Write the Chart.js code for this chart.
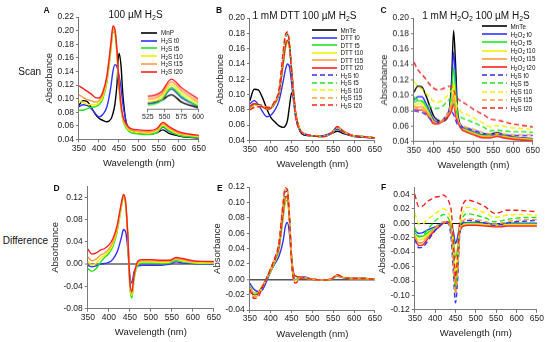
<!DOCTYPE html>
<html lang="en">
<head>
<meta charset="UTF-8">
<title>Absorbance scans and difference spectra</title>
<script src="https://cdn.jsdelivr.net/npm/chart.js@4.4.1/dist/chart.umd.min.js"></script>
<style>
  body { margin: 0; background: #fff; font-family: 'Liberation Sans', Arial, sans-serif; color: #111; }
  #fig { position: relative; width: 550px; height: 342px; overflow: hidden; }
  .holder { position: absolute; }
  .txt { position: absolute; white-space: nowrap; line-height: 1; }
  .letter { font-weight: bold; font-size: 8.5px; }
  .row { font-size: 10px; }
  .title { font-size: 10px; transform: translateX(-50%); }
  .leg { position: absolute; display: flex; align-items: center; height: 8px; font-size: 6.3px; white-space: nowrap; }
  .leg span { margin-left: 4px; }
  sub { font-size: 70%; vertical-align: -0.3em; line-height: 0; }
</style>
</head>
<body>
<div id="fig"></div>

<script>
// wavelengths (nm) shared by every curve
const wavelength = [350,360,370,380,390,400,410,420,430,435,440,445,450,455,460,470,480,500,525,545,560,575,600,625,650];

const xTicks = [350,400,450,500,550,600,650];
const insetTicks = [525,550,575,600];
const yTicksA = [0.04,0.06,0.08,0.10,0.12,0.14,0.16,0.18,0.20,0.22];
const yTicksBC = [0.04,0.06,0.08,0.10,0.12,0.14,0.16,0.18,0.20];
const yTicksD = [-0.08,-0.04,0,0.04,0.08,0.12];
const yTicksE = [-0.04,-0.02,0,0.02,0.04,0.06,0.08,0.10,0.12];
const yTicksF = [-0.12,-0.10,-0.08,-0.06,-0.04,-0.02,0,0.02,0.04];

// A: 100 uM H2S scans
const mnpA    = [.090,.097,.096,.088,.078,.071,.068,.066,.070,.078,.092,.120,.167,.150,.105,.060,.053,.049,.048,.050,.054,.049,.045,.043,.042];
const h2sT0A  = [.088,.091,.090,.086,.079,.073,.077,.088,.118,.140,.150,.147,.135,.117,.092,.062,.053,.049,.048,.050,.058,.052,.046,.044,.043];
const h2sT5A  = [.083,.083,.085,.087,.088,.091,.100,.124,.172,.198,.196,.166,.118,.086,.068,.055,.050,.048,.047,.050,.059,.053,.046,.044,.043];
const h2sT10A = [.097,.094,.092,.091,.091,.094,.103,.127,.175,.201,.198,.168,.120,.088,.070,.057,.052,.050,.049,.052,.061,.055,.048,.046,.044];
const h2sT15A = [.106,.102,.099,.097,.095,.097,.106,.130,.178,.203,.200,.170,.122,.090,.072,.059,.054,.052,.051,.054,.063,.057,.049,.047,.045];
const h2sT20A = [.119,.115,.111,.107,.102,.101,.110,.134,.182,.207,.202,.172,.124,.092,.074,.061,.056,.054,.053,.056,.065,.059,.051,.048,.046];

// B: 1 mM DTT then 100 uM H2S
const mnteB   = [.092,.107,.106,.096,.082,.070,.064,.059,.057,.059,.066,.085,.102,.095,.072,.052,.047,.046,.046,.049,.052,.049,.045,.044,.043];
const dttT0B  = [.088,.092,.087,.078,.071,.073,.080,.092,.118,.132,.140,.136,.115,.090,.070,.053,.048,.046,.046,.050,.055,.050,.046,.044,.043];
const dttT5B  = [.084,.087,.086,.084,.081,.082,.088,.101,.140,.160,.168,.160,.132,.100,.075,.054,.049,.046,.045,.049,.057,.051,.046,.045,.043];
const dttT10B = [.085,.087,.086,.084,.081,.082,.088,.101,.141,.161,.169,.161,.133,.101,.075,.054,.049,.046,.045,.049,.057,.051,.046,.045,.043];
const dttT15B = [.085,.088,.087,.084,.081,.082,.089,.102,.142,.162,.170,.162,.133,.101,.075,.054,.049,.046,.045,.049,.057,.051,.046,.045,.043];
const dttT20B = [.085,.088,.087,.084,.081,.082,.089,.102,.143,.163,.171,.163,.134,.102,.076,.054,.049,.046,.045,.049,.058,.052,.046,.045,.043];
const h2sT0B  = [.082,.086,.086,.086,.083,.083,.090,.104,.152,.173,.179,.165,.130,.099,.072,.054,.049,.046,.045,.049,.057,.051,.046,.045,.043];
const h2sT5B  = [.081,.085,.085,.086,.083,.083,.090,.105,.154,.175,.180,.166,.130,.098,.071,.054,.049,.046,.045,.049,.057,.051,.046,.045,.043];
const h2sT10B = [.081,.085,.085,.086,.083,.084,.091,.105,.155,.176,.181,.166,.129,.097,.071,.054,.049,.046,.045,.049,.057,.051,.046,.045,.043];
const h2sT15B = [.080,.084,.084,.086,.083,.084,.091,.106,.156,.177,.181,.166,.128,.097,.070,.054,.049,.046,.045,.049,.057,.051,.046,.045,.043];
const h2sT20B = [.080,.083,.084,.085,.083,.084,.092,.107,.157,.178,.182,.166,.127,.096,.070,.053,.049,.046,.045,.049,.058,.051,.046,.045,.043];

// C: 1 mM H2O2 then 100 uM H2S
const mnteC    = [.104,.112,.111,.100,.086,.073,.068,.066,.068,.072,.085,.120,.184,.140,.080,.060,.056,.052,.049,.050,.052,.049,.046,.045,.044];
const h2o2T0C  = [.094,.098,.098,.090,.079,.068,.066,.066,.070,.074,.083,.108,.156,.120,.075,.060,.057,.053,.049,.049,.051,.049,.046,.045,.044];
const h2o2T5C  = [.091,.093,.093,.086,.076,.066,.065,.066,.070,.074,.081,.100,.136,.105,.072,.059,.056,.052,.048,.048,.050,.048,.045,.044,.043];
const h2o2T10C = [.088,.089,.089,.083,.074,.065,.064,.066,.070,.073,.079,.092,.116,.092,.070,.058,.055,.051,.047,.047,.049,.047,.045,.044,.043];
const h2o2T15C = [.085,.085,.085,.080,.072,.064,.063,.066,.070,.073,.077,.086,.102,.082,.068,.057,.054,.050,.046,.046,.048,.046,.044,.043,.042];
const h2o2T20C = [.082,.081,.081,.077,.070,.063,.063,.066,.070,.072,.075,.080,.089,.074,.066,.056,.053,.049,.045,.045,.047,.045,.043,.042,.041];
const h2sT0C   = [.080,.079,.078,.075,.070,.065,.065,.067,.073,.077,.080,.079,.075,.068,.062,.059,.058,.055,.051,.049,.050,.049,.048,.048,.048];
const h2sT5C   = [.098,.094,.092,.089,.086,.083,.083,.085,.090,.093,.095,.094,.090,.082,.076,.071,.069,.065,.059,.054,.055,.054,.053,.053,.052];
const h2sT10C  = [.118,.112,.108,.103,.097,.092,.091,.093,.097,.100,.104,.106,.105,.095,.085,.078,.076,.071,.064,.059,.061,.060,.058,.057,.056];
const h2sT15C  = [.086,.083,.082,.078,.072,.066,.065,.067,.072,.076,.082,.088,.094,.080,.068,.061,.059,.056,.052,.050,.051,.050,.049,.049,.049];
const h2sT20C  = [.143,.133,.127,.121,.114,.109,.107,.108,.110,.111,.112,.111,.107,.100,.096,.092,.089,.082,.075,.069,.068,.066,.063,.061,.059];

// D: difference spectra for A
const h2sT0D  = [-.002,-.005,-.003,.000,.001,.003,.009,.022,.048,.062,.058,.028,-.020,-.034,-.014,-.003,-.002,-.002,-.002,.000,.004,.002,.001,.000,.000];
const h2sT5D  = [-.008,-.013,-.008,.003,.012,.019,.032,.058,.103,.121,.106,.050,-.040,-.061,-.028,.000,.002,.002,.001,.002,.007,.004,.002,.001,.001];
const h2sT10D = [.005,-.002,.002,.010,.016,.023,.036,.062,.105,.122,.108,.052,-.036,-.056,-.025,.002,.004,.004,.003,.004,.009,.006,.003,.002,.002];
const h2sT15D = [.013,.006,.009,.016,.020,.027,.040,.065,.108,.124,.110,.054,-.033,-.053,-.022,.004,.006,.006,.005,.005,.010,.008,.004,.004,.003];
const h2sT20D = [.027,.018,.020,.025,.028,.034,.046,.070,.110,.125,.112,.056,-.030,-.049,-.020,.006,.008,.008,.007,.007,.012,.010,.006,.005,.005];

// E: difference spectra for B
const dttT0E  = [-.005,-.013,-.016,-.014,-.003,.010,.020,.030,.050,.068,.074,.060,.025,.002,-.001,.003,.003,.000,-.001,.000,.004,.002,.001,.001,.000];
const dttT5E  = [-.008,-.018,-.017,-.009,.000,.010,.022,.038,.080,.100,.103,.078,.032,.008,.004,.003,.002,.000,-.001,.000,.005,.002,.001,.001,.000];
const dttT10E = [-.009,-.019,-.018,-.009,.000,.011,.023,.040,.083,.103,.105,.079,.032,.008,.004,.003,.002,.000,-.001,.000,.005,.002,.001,.001,.000];
const dttT15E = [-.010,-.020,-.018,-.009,.001,.012,.024,.041,.085,.105,.106,.079,.032,.008,.004,.003,.002,.000,-.001,.000,.005,.002,.001,.001,.000];
const dttT20E = [-.011,-.021,-.019,-.009,.001,.012,.025,.042,.087,.107,.108,.080,.032,.008,.004,.003,.002,.000,-.001,.000,.006,.002,.001,.001,.000];
const h2sT0E  = [-.010,-.021,-.020,-.010,.001,.013,.026,.045,.095,.114,.115,.082,.028,.003,.000,.002,.002,.000,-.001,.000,.005,.002,.001,.001,.000];
const h2sT5E  = [-.011,-.022,-.021,-.010,.001,.013,.026,.046,.097,.116,.116,.083,.028,.002,-.001,.002,.002,.000,-.001,.000,.005,.002,.001,.001,.000];
const h2sT10E = [-.011,-.022,-.021,-.010,.001,.013,.027,.046,.098,.117,.117,.083,.027,.001,-.002,.002,.002,.000,-.001,.000,.005,.002,.001,.001,.000];
const h2sT15E = [-.012,-.023,-.022,-.010,.001,.014,.027,.047,.099,.118,.117,.083,.026,.000,-.003,.002,.002,.000,-.001,.000,.005,.002,.001,.001,.000];
const h2sT20E = [-.013,-.025,-.023,-.011,.001,.014,.028,.048,.100,.119,.117,.082,.025,-.001,-.005,.001,.002,.000,-.001,.000,.006,.002,.001,.001,.000];

// F: difference spectra for C
const h2o2T0F  = [-.010,-.014,-.013,-.010,-.007,-.005,-.002,.000,.002,.002,-.002,-.012,-.028,-.020,-.005,.000,.001,.001,.000,-.001,-.001,.000,.000,.000,.000];
const h2o2T5F  = [-.013,-.019,-.018,-.014,-.010,-.007,-.003,.000,.002,.002,-.004,-.020,-.048,-.035,-.008,-.001,.000,.000,-.001,-.002,-.002,-.001,-.001,-.001,-.001];
const h2o2T10F = [-.016,-.023,-.022,-.017,-.012,-.008,-.004,.000,.002,.001,-.006,-.028,-.068,-.048,-.010,-.002,-.001,-.001,-.002,-.003,-.003,-.002,-.002,-.002,-.002];
const h2o2T15F = [-.019,-.027,-.026,-.020,-.014,-.009,-.005,.000,.002,.001,-.008,-.034,-.082,-.058,-.012,-.003,-.002,-.002,-.003,-.004,-.004,-.003,-.003,-.003,-.003];
const h2o2T20F = [-.022,-.031,-.030,-.023,-.016,-.010,-.005,.000,.002,.000,-.010,-.040,-.095,-.066,-.014,-.004,-.003,-.003,-.004,-.005,-.005,-.004,-.004,-.004,-.004];
const h2sT0F   = [-.022,-.034,-.033,-.026,-.018,-.010,-.004,.000,.000,-.004,-.025,-.070,-.110,-.080,-.020,.002,.004,.003,.000,-.003,-.002,.000,.002,.003,.004];
const h2sT5F   = [-.006,-.018,-.017,-.010,-.003,.003,.008,.012,.009,.004,-.008,-.045,-.090,-.062,-.012,.010,.013,.011,.007,.002,.003,.005,.007,.008,.008];
const h2sT10F  = [.014,-.001,-.001,.005,.009,.013,.017,.020,.016,.011,.000,-.035,-.075,-.050,-.008,.018,.022,.019,.014,.008,.009,.011,.012,.012,.011];
const h2sT15F  = [-.018,-.028,-.027,-.020,-.013,-.006,-.001,.002,.002,-.002,-.015,-.060,-.098,-.070,-.016,.004,.006,.005,.002,-.001,.000,.002,.004,.005,.005];
const h2sT20F  = [.040,.023,.024,.030,.033,.036,.037,.039,.034,.028,.015,-.025,-.075,-.045,.000,.028,.032,.029,.022,.014,.015,.018,.018,.017,.016];

const labelsA = ['MnP','H2S t0','H2S t5','H2S t10','H2S t15','H2S t20'];
const labelsB = ['MnTe','DTT t0','DTT t5','DTT t10','DTT t15','DTT t20','H2S t0','H2S t5','H2S t10','H2S t15','H2S t20'];
const labelsC = ['MnTe','H2O2 t0','H2O2 t5','H2O2 t10','H2O2 t15','H2O2 t20','H2S t0','H2S t5','H2S t10','H2S t15','H2S t20'];

const BLACK = '#000000', BLUE = '#3030ff', GREEN = '#1ee61e', YELLOW = '#f2f200', ORANGE = '#ff9c3c', RED = '#ff1e1e';
const timeColors = [BLUE, GREEN, YELLOW, ORANGE, RED];
const axisColor = '#7a7a7a';
const textColor = '#222';
const fontFamily = "'Liberation Sans', Arial, sans-serif";

const fig = document.getElementById('fig');

function sub2(text) {
    return text.replace(/([HO])2/g, '$1<sub>2</sub>');
}

function line(values, color, dashed) {
    return {
        data: values.map((v, i) => ({ x: wavelength[i], y: v })),
        borderColor: color,
        borderWidth: 1.4,
        borderDash: dashed ? [5, 3] : [],
        pointRadius: 0,
        fill: false,
        cubicInterpolationMode: 'monotone'
    };
}

// size and move the canvas so that the plot area sits on box
function fitBox(chart, holder, box) {
    for (let k = 0; k < 2; k++) {
        const a = chart.chartArea;
        holder.style.width = (holder.clientWidth + box.w - (a.right - a.left)) + 'px';
        holder.style.height = (holder.clientHeight + box.h - (a.bottom - a.top)) + 'px';
        chart.resize();
    }
    const a = chart.chartArea;
    holder.style.left = (box.x - a.left) + 'px';
    holder.style.top = (box.y - a.top) + 'px';
}

function makePanel(box, datasets, opt) {
    const holder = document.createElement('div');
    holder.className = 'holder';
    holder.style.width = (box.w + 50) + 'px';
    holder.style.height = (box.h + 40) + 'px';
    const canvas = document.createElement('canvas');
    holder.appendChild(canvas);
    fig.appendChild(holder);
    datasets.forEach((d, i) => { d.order = -i; });

    const isZero = ctx => opt.zero && ctx.tick && ctx.tick.value === 0;
    const chart = new Chart(canvas, {
        type: 'line',
        data: { datasets: datasets },
        options: {
            responsive: true,
            maintainAspectRatio: false,
            animation: false,
            events: [],
            layout: { padding: 0 },
            plugins: { legend: { display: false }, tooltip: { enabled: false } },
            scales: {
                x: {
                    type: 'linear',
                    min: opt.xMin, max: opt.xMax,
                    afterBuildTicks: s => { s.ticks = opt.xTicks.map(v => ({ value: v })); },
                    grid: { display: true, drawOnChartArea: false, drawTicks: true, tickLength: 3, color: axisColor },
                    border: { display: true, color: axisColor, width: 1 },
                    ticks: { color: textColor, font: { family: fontFamily, size: opt.tickSize || 8.5 }, padding: 1, maxRotation: 0, autoSkip: false, callback: v => String(v) },
                    title: { display: !!opt.xTitle, text: opt.xTitle, color: textColor, font: { family: fontFamily, size: 9.5 }, padding: { top: 3, bottom: 0 } }
                },
                y: {
                    display: opt.yShow !== false,
                    min: opt.yMin, max: opt.yMax,
                    afterBuildTicks: s => { s.ticks = (opt.yTicks || []).map(v => ({ value: v })); },
                    grid: {
                        display: true,
                        drawOnChartArea: !!opt.zero,
                        drawTicks: true,
                        tickLength: 3,
                        color: ctx => isZero(ctx) ? opt.zero.color : (opt.zero ? 'rgba(0,0,0,0)' : axisColor),
                        lineWidth: ctx => isZero(ctx) ? opt.zero.width : 1,
                        tickColor: axisColor,
                        tickWidth: 1
                    },
                    border: { display: true, color: axisColor, width: 1 },
                    ticks: { color: textColor, font: { family: fontFamily, size: 8.5 }, padding: 2, callback: v => (Math.abs(v) < 1e-9 ? 0 : v).toFixed(2) },
                    title: { display: true, text: 'Absorbance', color: textColor, font: { family: fontFamily, size: 9.5 }, padding: { top: 0, bottom: 0 } }
                }
            }
        }
    });
    fitBox(chart, holder, box);
    return chart;
}

function addText(html, cls, x, y) {
    const d = document.createElement('div');
    d.className = 'txt ' + cls;
    d.style.left = x + 'px';
    d.style.top = y + 'px';
    d.innerHTML = html;
    fig.appendChild(d);
}

function drawLegend(labels, colors, dashes, pos) {
    labels.forEach((text, i) => {
        const item = document.createElement('div');
        item.className = 'leg';
        item.style.left = pos.x + 'px';
        item.style.top = (pos.y + i * pos.step - 4) + 'px';
        const dash = dashes[i] ? ' stroke-dasharray="5,3"' : '';
        item.innerHTML = '<svg width="' + pos.len + '" height="8"><line x1="0" y1="4" x2="' + pos.len + '" y2="4" stroke="' + colors[i] + '" stroke-width="1.6"' + dash + '/></svg><span>' + sub2(text) + '</span>';
        fig.appendChild(item);
    });
}

const scanColors = [BLACK].concat(timeColors, timeColors);
const scanDashes = [false, false, false, false, false, false, true, true, true, true, true];

// top row: scans
makePanel({ x: 79, y: 17.3, w: 120, h: 122 },
    [mnpA, h2sT0A, h2sT5A, h2sT10A, h2sT15A, h2sT20A].map((v, i) => line(v, scanColors[i], false)),
    { xMin: 350, xMax: 650, xTicks: xTicks, yMin: 0.04, yMax: 0.22, yTicks: yTicksA, xTitle: 'Wavelength (nm)' });

makePanel({ x: 148, y: 78, w: 50, h: 31 },
    [mnpA, h2sT0A, h2sT5A, h2sT10A, h2sT15A, h2sT20A].map((v, i) => line(v, scanColors[i], false)),
    { xMin: 525, xMax: 600, xTicks: insetTicks, yMin: 0.044, yMax: 0.066, yShow: false, tickSize: 7 });

makePanel({ x: 250, y: 18.3, w: 125, h: 122 },
    [mnteB, dttT0B, dttT5B, dttT10B, dttT15B, dttT20B, h2sT0B, h2sT5B, h2sT10B, h2sT15B, h2sT20B].map((v, i) => line(v, scanColors[i], scanDashes[i])),
    { xMin: 350, xMax: 650, xTicks: xTicks, yMin: 0.04, yMax: 0.20, yTicks: yTicksBC, xTitle: 'Wavelength (nm)' });

makePanel({ x: 414, y: 18.3, w: 119, h: 122.4 },
    [mnteC, h2o2T0C, h2o2T5C, h2o2T10C, h2o2T15C, h2o2T20C, h2sT0C, h2sT5C, h2sT10C, h2sT15C, h2sT20C].map((v, i) => line(v, scanColors[i], scanDashes[i])),
    { xMin: 350, xMax: 650, xTicks: xTicks, yMin: 0.04, yMax: 0.20, yTicks: yTicksBC, xTitle: 'Wavelength (nm)' });

// bottom row: differences
makePanel({ x: 88, y: 186, w: 126, h: 122.3 },
    [h2sT0D, h2sT5D, h2sT10D, h2sT15D, h2sT20D].map((v, i) => line(v, timeColors[i], false)),
    { xMin: 350, xMax: 650, xTicks: xTicks, yMin: -0.08, yMax: 0.14, yTicks: yTicksD, xTitle: 'Wavelength (nm)', zero: { color: '#8a8a8a', width: 2 } });

makePanel({ x: 250, y: 186.7, w: 125, h: 122.6 },
    [dttT0E, dttT5E, dttT10E, dttT15E, dttT20E, h2sT0E, h2sT5E, h2sT10E, h2sT15E, h2sT20E].map((v, i) => line(v, timeColors[i % 5], i >= 5)),
    { xMin: 350, xMax: 650, xTicks: xTicks, yMin: -0.04, yMax: 0.12, yTicks: yTicksE, xTitle: 'Wavelength (nm)', zero: { color: '#555', width: 1.5 } });

makePanel({ x: 414.5, y: 186.8, w: 122, h: 122.5 },
    [h2o2T0F, h2o2T5F, h2o2T10F, h2o2T15F, h2o2T20F, h2sT0F, h2sT5F, h2sT10F, h2sT15F, h2sT20F].map((v, i) => line(v, timeColors[i % 5], i >= 5)),
    { xMin: 350, xMax: 650, xTicks: xTicks, yMin: -0.12, yMax: 0.05, yTicks: yTicksF, xTitle: 'Wavelength (nm)', zero: { color: '#111', width: 1 } });

// legends
drawLegend(labelsA, scanColors, scanDashes, { x: 141, y: 32.7, step: 7.8, len: 16 });
drawLegend(labelsB, scanColors, scanDashes, { x: 311.5, y: 30, step: 7.5, len: 25 });
drawLegend(labelsC, scanColors, scanDashes, { x: 481.5, y: 26, step: 8.2, len: 25 });

// titles, row names and panel letters
addText(sub2('100 µM H2S'), 'title', 135.5, 10.4);
addText(sub2('1 mM DTT 100 µM H2S'), 'title', 304.5, 11.2);
addText(sub2('1 mM H2O2 100 µM H2S'), 'title', 476, 10.8);
addText('Scan', 'row', 18.3, 66.7);
addText('Difference', 'row', 2.7, 235.5);
addText('A', 'letter', 43.5, 5.8);
addText('B', 'letter', 216, 5.8);
addText('C', 'letter', 380.5, 5.8);
addText('D', 'letter', 53.5, 183.5);
addText('E', 'letter', 217, 183.5);
addText('F', 'letter', 381, 183);
</script>
</body>
</html>
